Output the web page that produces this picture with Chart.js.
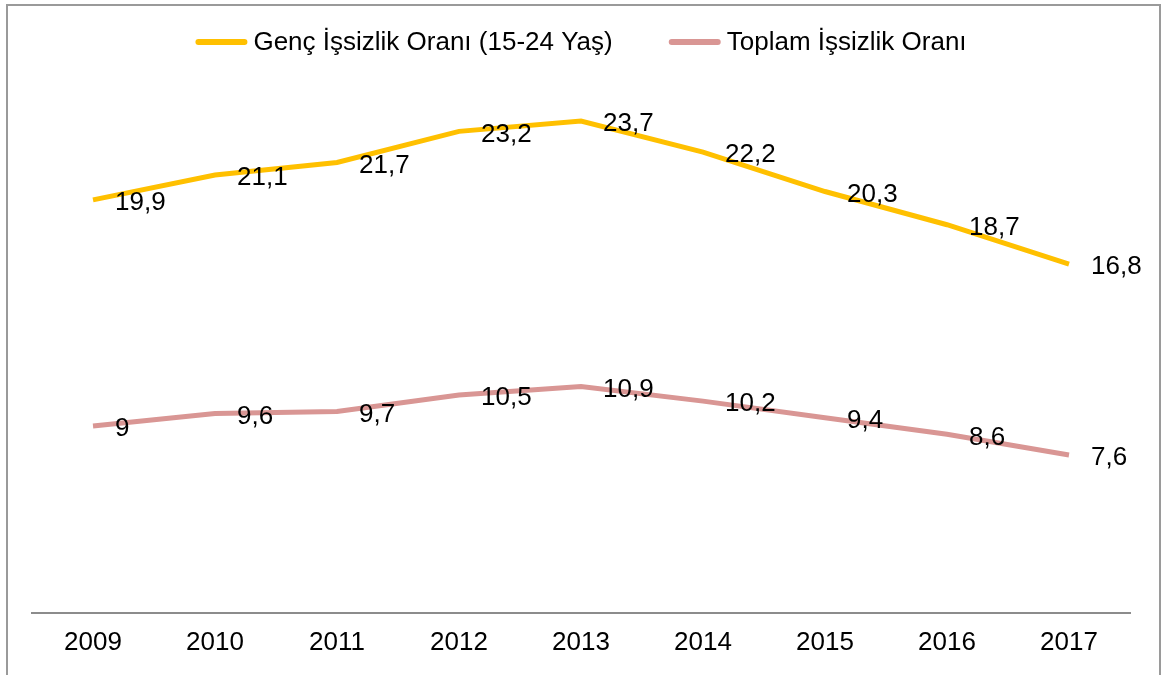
<!DOCTYPE html>
<html>
<head>
<meta charset="utf-8">
<script src="https://cdn.jsdelivr.net/npm/chart.js@4"></script>
<style>
  html, body { margin: 0; padding: 0; background: #fff; }
  #frame {
    position: absolute; left: 6px; top: 4px; width: 1151px; height: 700px;
    border: 2px solid #9a9a9a; background: #fff;
  }
  #wrap { position: absolute; left: 0; top: 0; width: 1151px; height: 669px; }
</style>
</head>
<body>
<div id="frame"><div id="wrap"><canvas id="issizlikChart"></canvas></div></div>
<script>
const years = ["2009", "2010", "2011", "2012", "2013", "2014", "2015", "2016", "2017"];
const gencOrani = [19.9, 21.1, 21.7, 23.2, 23.7, 22.2, 20.3, 18.7, 16.8];
const toplamOrani = [9, 9.6, 9.7, 10.5, 10.9, 10.2, 9.4, 8.6, 7.6];

const FONT = "'Liberation Sans', Arial, sans-serif";
const FONT_SIZE = 26;

// data labels to the right of each point, with Turkish decimal comma
const pointLabels = {
  id: "pointLabels",
  afterDatasetsDraw(chart) {
    const ctx = chart.ctx;
    ctx.save();
    ctx.font = FONT_SIZE + "px " + FONT;
    ctx.fillStyle = "#000";
    ctx.textAlign = "left";
    ctx.textBaseline = "middle";
    chart.data.datasets.forEach(function (ds, i) {
      chart.getDatasetMeta(i).data.forEach(function (pt, j) {
        const txt = String(ds.data[j]).replace(".", ",");
        ctx.fillText(txt, pt.x + 22, pt.y + 3);
      });
    });
    ctx.restore();
  },
};

// legend drawn by hand so the spacing looks like the Excel one
const lineLegend = {
  id: "lineLegend",
  afterDraw(chart) {
    const ctx = chart.ctx;
    const sample = 52, gapText = 6, gapItem = 56, y = 36;
    ctx.save();
    ctx.font = FONT_SIZE + "px " + FONT;
    const items = chart.data.datasets.map(function (ds) {
      return { text: ds.label, color: ds.borderColor, w: ctx.measureText(ds.label).width };
    });
    let total = 0;
    items.forEach(function (it, i) {
      total += sample + gapText + it.w + (i > 0 ? gapItem : 0);
    });
    let x = (chart.chartArea.left + chart.chartArea.right) / 2 - total / 2;
    items.forEach(function (it) {
      ctx.strokeStyle = it.color;
      ctx.lineWidth = 6;
      ctx.lineCap = "round";
      ctx.beginPath();
      ctx.moveTo(x + 3, y);
      ctx.lineTo(x + sample - 3, y);
      ctx.stroke();
      ctx.fillStyle = "#000";
      ctx.textAlign = "left";
      ctx.textBaseline = "middle";
      ctx.fillText(it.text, x + sample + gapText, y + 1);
      x += sample + gapText + it.w + gapItem;
    });
    ctx.restore();
  },
};

new Chart(document.getElementById("issizlikChart"), {
  type: "line",
  data: {
    labels: years,
    datasets: [
      {
        label: "Genç İşsizlik Oranı (15-24 Yaş)",
        data: gencOrani,
        borderColor: "#FFC000",
        backgroundColor: "#FFC000",
        borderWidth: 5,
        pointRadius: 0,
        tension: 0,
      },
      {
        label: "Toplam İşsizlik Oranı",
        data: toplamOrani,
        borderColor: "#D99694",
        backgroundColor: "#D99694",
        borderWidth: 5,
        pointRadius: 0,
        tension: 0,
      },
    ],
  },
  options: {
    responsive: true,
    maintainAspectRatio: false,
    animation: false,
    layout: { padding: { left: 24, right: 29, top: 88, bottom: 11 } },
    plugins: {
      tooltip: { enabled: false },
      legend: { display: false },
    },
    scales: {
      x: {
        offset: true,
        grid: { display: false },
        border: { display: true, color: "#8c8c8c", width: 2 },
        ticks: { font: { family: FONT, size: FONT_SIZE }, color: "#000", padding: 6 },
      },
      y: {
        display: false,
        min: 0,
        max: 25,
      },
    },
  },
  plugins: [pointLabels, lineLegend],
});
</script>
</body>
</html>
